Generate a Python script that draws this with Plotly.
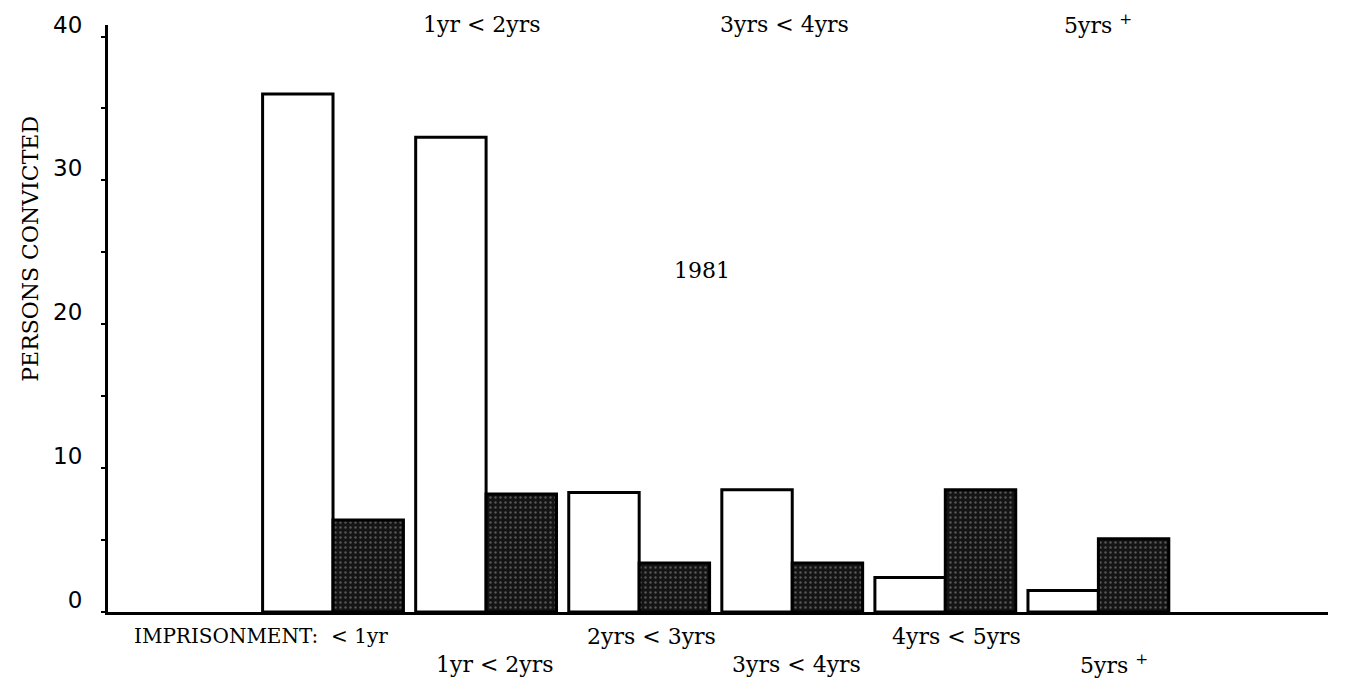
import plotly.graph_objects as go

# Data
categories = ["< 1yr", "1yr < 2yrs", "2yrs < 3yrs", "3yrs < 4yrs", "4yrs < 5yrs", "5yrs +"]
cat_pos = [1, 2, 3, 4, 5, 6]
open_values = [36, 33, 8.3, 8.5, 2.4, 1.5]
shaded_values = [6.4, 8.2, 3.4, 3.4, 8.5, 5.1]
y_ticks = [0, 10, 20, 30, 40]
bottom_row1 = [("2yrs < 3yrs", 3.08), ("4yrs < 5yrs", 5.07)]
bottom_row2 = [("1yr < 2yrs", 2.06), ("3yrs < 4yrs", 4.03), ("5yrs <sup>+</sup>", 6.1)]
top_row = [("1yr < 2yrs", 1.97), ("3yrs < 4yrs", 3.95), ("5yrs <sup>+</sup>", 6.0)]

serif = "DejaVu Serif, serif"
lab_size = 22

fig = go.Figure()
fig.add_trace(go.Bar(
    x=cat_pos, y=open_values, name="open",
    marker=dict(color="white", line=dict(color="black", width=3)),
))
fig.add_trace(go.Bar(
    x=cat_pos, y=shaded_values, name="shaded",
    marker=dict(color="#151515", line=dict(color="black", width=3),
                pattern=dict(shape=".", fgcolor="#9a9a9a", bgcolor="#141414",
                             size=5, solidity=0.18, fillmode="overlay")),
))

annotations = []
annotations.append(dict(text="IMPRISONMENT:&nbsp; < 1yr", x=1.37, xref="x", xanchor="right",
                        y=0, yref="paper", yanchor="middle", yshift=-24, showarrow=False,
                        font=dict(family=serif, size=20, color="black")))
for txt, xp in bottom_row1:
    annotations.append(dict(text=txt, x=xp, xref="x", y=0, yref="paper", yanchor="middle",
                            yshift=-24, showarrow=False,
                            font=dict(family=serif, size=lab_size, color="black")))
for txt, xp in bottom_row2:
    annotations.append(dict(text=txt, x=xp, xref="x", y=0, yref="paper", yanchor="middle",
                            yshift=-52, showarrow=False,
                            font=dict(family=serif, size=lab_size, color="black")))
for txt, xp in top_row:
    annotations.append(dict(text=txt, x=xp, xref="x", y=1, yref="paper", yanchor="middle",
                            yshift=1, showarrow=False,
                            font=dict(family=serif, size=lab_size, color="black")))
annotations.append(dict(text="1981", x=3.41, xref="x", y=23.75, yref="y", showarrow=False,
                        font=dict(family=serif, size=22, color="black")))
annotations.append(dict(text="PERSONS CONVICTED", textangle=-90, x=0, xref="paper", xshift=-92,
                        y=0.618, yref="paper", showarrow=False,
                        font=dict(family=serif, size=22, color="black")))

fig.update_layout(
    width=1337, height=677,
    margin=dict(l=100, r=17, t=17, b=73, autoexpand=False),
    paper_bgcolor="white", plot_bgcolor="white",
    barmode="group", bargap=0.08, bargroupgap=0,
    showlegend=False,
    annotations=annotations,
    xaxis=dict(range=[-0.47, 7.5], showgrid=False, zeroline=False, showticklabels=False,
               showline=True, linecolor="black", linewidth=3, ticks="", automargin=False),
    yaxis=dict(range=[0, 40.8], tickvals=y_ticks, showgrid=False, zeroline=False,
               showline=True, linecolor="black", linewidth=3, automargin=False,
               ticks="outside", ticklen=4, tickwidth=2, tickcolor="black",
               minor=dict(dtick=5, ticks="outside", ticklen=4, tickwidth=2, tickcolor="black"),
               tickfont=dict(family="DejaVu Sans, sans-serif", size=23, color="black"),
               ticklabelstandoff=14, ticklabelshift=-12),
)

fig.write_html("out.html")
